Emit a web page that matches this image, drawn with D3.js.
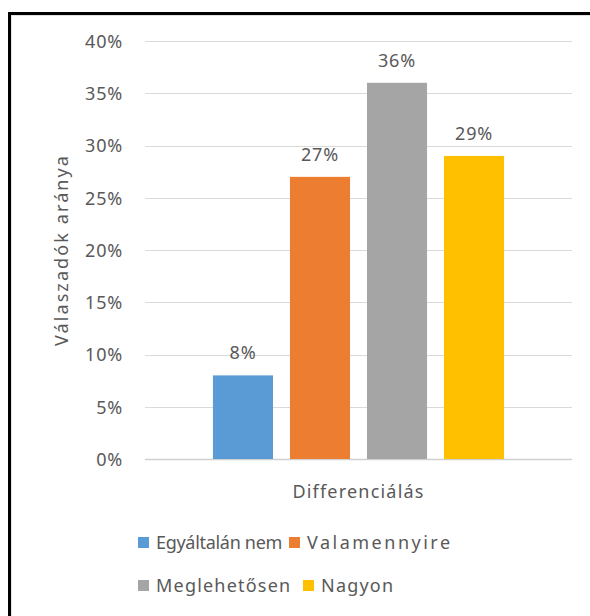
<!DOCTYPE html>
<html>
<head>
<meta charset="utf-8">
<script src="https://cdn.jsdelivr.net/npm/d3@7"></script>
<style>
  body { margin: 0; background: #fff; }
  svg text { font-family: "Noto Sans", "Open Sans", sans-serif; fill: #595959; }
</style>
</head>
<body>
<svg id="chart" width="590" height="616"></svg>
<script>
// data
var categories = ["Differenciálás"];
var series = ["Egyáltalán nem", "Valamennyire", "Meglehetősen", "Nagyon"];
var values = [0.08, 0.27, 0.36, 0.29];
var colors = ["#5B9BD5", "#ED7D31", "#A5A5A5", "#FFC000"];
var yTicks = [0, 0.05, 0.10, 0.15, 0.20, 0.25, 0.30, 0.35, 0.40];

var svg = d3.select("#chart");

// outer frame
svg.append("rect")
  .attr("x", 9.5).attr("y", 13.5)
  .attr("width", 620).attr("height", 640)
  .attr("fill", "none").attr("stroke", "#000").attr("stroke-width", 3);
svg.append("rect")
  .attr("x", 11.5).attr("y", 15.5)
  .attr("width", 620).attr("height", 640)
  .attr("fill", "none").attr("stroke", "#e2e2e2").attr("stroke-width", 1);

var plotL = 145, plotR = 572, plotT = 41, plotB = 459;

var y = d3.scaleLinear().domain([0, 0.40]).range([plotB, plotT]);
var x0 = d3.scaleBand().domain(categories).range([plotL, plotR])
  .paddingInner(0).paddingOuter(0.193);
var x1 = d3.scaleBand().domain(series).range([0, x0.bandwidth()])
  .paddingInner(0.22).paddingOuter(0.11);

// gridlines
svg.append("g").selectAll("line").data(yTicks).enter().append("line")
  .attr("x1", plotL).attr("x2", plotR)
  .attr("y1", function(d){ return Math.round(y(d)) + 0.5; })
  .attr("y2", function(d){ return Math.round(y(d)) + 0.5; })
  .attr("stroke", function(d){ return d === 0 ? "#d0d0d0" : "#dadada"; })
  .attr("stroke-width", function(d){ return d === 0 ? 1.5 : 1; });

// y axis labels
var yAxis = d3.axisLeft(y).tickValues(yTicks).tickFormat(d3.format(".0%")).tickSize(0).tickPadding(0);
var ga = svg.append("g").attr("transform", "translate(123,0)").call(yAxis);
ga.select(".domain").remove();
ga.selectAll("text").attr("font-size", 18).attr("fill", "#595959")
  .attr("letter-spacing", 0.8)
  .style("font-family", "'Noto Sans', sans-serif").attr("dy", "0.35em");

// bars
var g = svg.append("g").attr("transform", "translate(" + x0(categories[0]) + ",0)");
g.selectAll("rect").data(values).enter().append("rect")
  .attr("x", function(d, i){ return x1(series[i]); })
  .attr("y", function(d){ return y(d); })
  .attr("width", x1.bandwidth())
  .attr("height", function(d){ return plotB - y(d); })
  .attr("fill", function(d, i){ return colors[i]; });

// data labels
g.selectAll("text.lbl").data(values).enter().append("text")
  .attr("class", "lbl")
  .attr("x", function(d, i){ return x1(series[i]) + x1.bandwidth() / 2; })
  .attr("y", function(d){ return y(d) - 16; })
  .attr("text-anchor", "middle")
  .attr("font-size", 18)
  .attr("letter-spacing", 0.8)
  .text(function(d){ return d3.format(".0%")(d); });

// x category label
svg.append("text")
  .attr("x", x0(categories[0]) + x0.bandwidth() / 2).attr("y", 498)
  .attr("text-anchor", "middle").attr("font-size", 18)
  .attr("letter-spacing", 1.2)
  .text(categories[0]);

// y title
svg.append("text")
  .attr("transform", "translate(68," + ((plotT + plotB) / 2) + ") rotate(-90)")
  .attr("text-anchor", "middle").attr("font-size", 18)
  .attr("letter-spacing", 2.1)
  .text("Válaszadók aránya");

// legend
var legendPos = [[138, 543], [289, 543], [138, 586], [303, 586]];
var legendSpacing = [-0.3, 2.5, 1.2, 1.2];
var lg = svg.append("g").selectAll("g").data(series).enter().append("g")
  .attr("transform", function(d, i){ return "translate(" + legendPos[i][0] + "," + legendPos[i][1] + ")"; });
lg.append("rect").attr("x", 0).attr("y", -6).attr("width", 11).attr("height", 11)
  .attr("fill", function(d, i){ return colors[i]; });
lg.append("text").attr("x", 18).attr("y", 6).attr("font-size", 18)
  .attr("letter-spacing", function(d, i){ return legendSpacing[i]; })
  .text(function(d){ return d; });
</script>
</body>
</html>
